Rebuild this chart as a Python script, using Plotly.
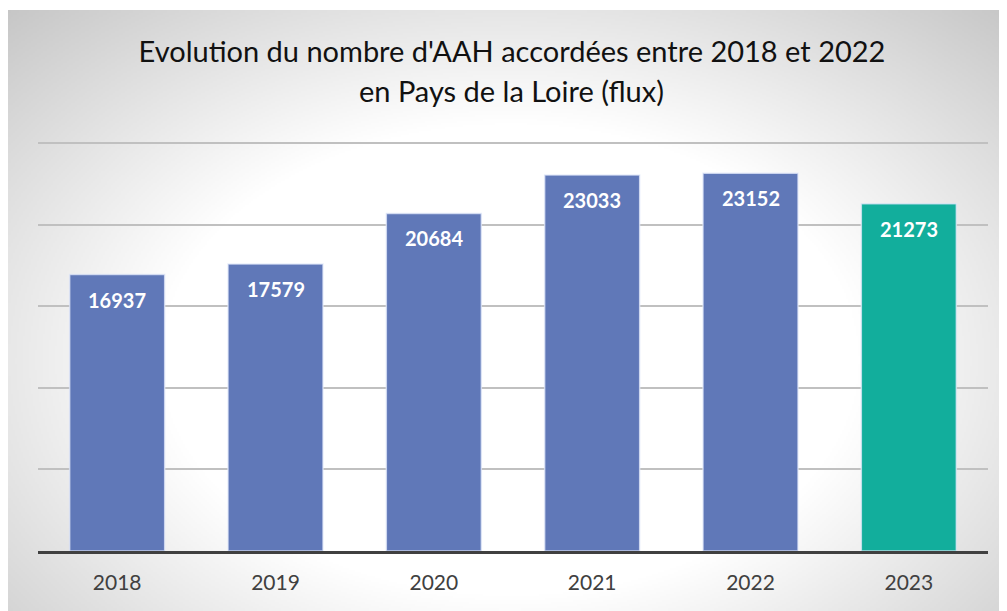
import base64
import struct
import zlib

import numpy as np
import plotly.graph_objects as go

years = ["2018", "2019", "2020", "2021", "2022", "2023"]
values = [16937, 17579, 20684, 23033, 23152, 21273]
bar_colors = ["#6078b8", "#6078b8", "#6078b8", "#6078b8", "#6078b8", "#12ae9c"]
title_line1 = "Evolution du nombre d'AAH accordées entre 2018 et 2022"
title_line2 = "en Pays de la Loire (flux)"

# the page body has an 8px margin, so the figure starts at window (8, 8)
OFF = 8
W, H = 1007 - OFF, 611 - OFF
FONT = "Lato"


def fx(px):  # window x pixel -> paper fraction
    return (px - OFF) / W


def fy(py):  # window y pixel -> paper fraction
    return 1 - (py - OFF) / H


def gradient_png(w, h, x0, y0, x1, y1):
    """Radial grey gradient (light centre, grey corners) as a PNG data URI."""
    xs = np.linspace(x0, x1, w)
    ys = np.linspace(y0, y1, h)
    X, Y = np.meshgrid(xs, ys)
    r = np.sqrt(((X - 510) / 620) ** 2 + ((Y - 360) / 420) ** 2)
    g = 255 - 94 * np.clip(r - 0.566, 0, None)
    g = np.clip(g, 190, 255).astype(np.uint8)
    raw = b"".join(b"\x00" + row.tobytes() for row in g)

    def chunk(tag, data):
        c = struct.pack(">I", len(data)) + tag + data
        return c + struct.pack(">I", zlib.crc32(tag + data) & 0xFFFFFFFF)

    png = b"\x89PNG\r\n\x1a\n" + chunk(b"IHDR", struct.pack(">IIBBBBB", w, h, 8, 0, 0, 0, 0))
    png += chunk(b"IDAT", zlib.compress(raw, 9)) + chunk(b"IEND", b"")
    return "data:image/png;base64," + base64.b64encode(png).decode()


fig = go.Figure()

fig.add_trace(go.Bar(
    x=years, y=values,
    marker=dict(color=bar_colors, line=dict(color="rgba(225,232,250,0.75)", width=1.5)),
    width=0.6, showlegend=False, hoverinfo="x+y",
))

# value labels inside the top of each bar (x given as category index)
for i, v in enumerate(values):
    fig.add_annotation(
        x=i, y=v, xref="x", yref="y", text=f"<b>{v}</b>", showarrow=False,
        yanchor="middle", yshift=-25,
        font=dict(family=FONT, size=20, color="white"),
    )

# second title line
fig.add_annotation(
    x=fx(512), y=fy(90), xref="paper", yref="paper", text=title_line2, showarrow=False,
    xanchor="center", yanchor="middle", font=dict(family=FONT, size=29, color="#111111"),
)

fig.add_layout_image(
    source=gradient_png(500, 300, 8, 10, 1007, 611),
    xref="paper", yref="paper", x=fx(8), y=fy(10),
    sizex=1 - fx(8), sizey=fy(10),
    xanchor="left", yanchor="top", sizing="stretch", layer="below",
)

YMAX = 25100
fig.update_layout(
    width=W, height=H,
    margin=dict(l=0, r=0, t=0, b=0, pad=0, autoexpand=False),
    paper_bgcolor="white", plot_bgcolor="rgba(0,0,0,0)",
    title=dict(text=title_line1, x=fx(512), xanchor="center", y=fy(52), yanchor="middle",
               xref="container", yref="container",
               font=dict(family=FONT, size=29, color="#111111")),
    xaxis=dict(type="category", domain=[fx(38), fx(988)], range=[-0.5, 5.5],
               showline=True, linecolor="#404040", linewidth=3, ticklabelstandoff=11,
               ticks="", tickfont=dict(family=FONT, size=21, color="#404040"), showgrid=False),
    yaxis=dict(domain=[fy(551), fy(551 - 408 * YMAX / 25000)], range=[0, YMAX], dtick=5000,
               showticklabels=False, showgrid=True,
               gridcolor="#c0c0c0", gridwidth=1.5, zeroline=False, ticks=""),
    bargap=0.4,
)

fig.write_html("out.html")
